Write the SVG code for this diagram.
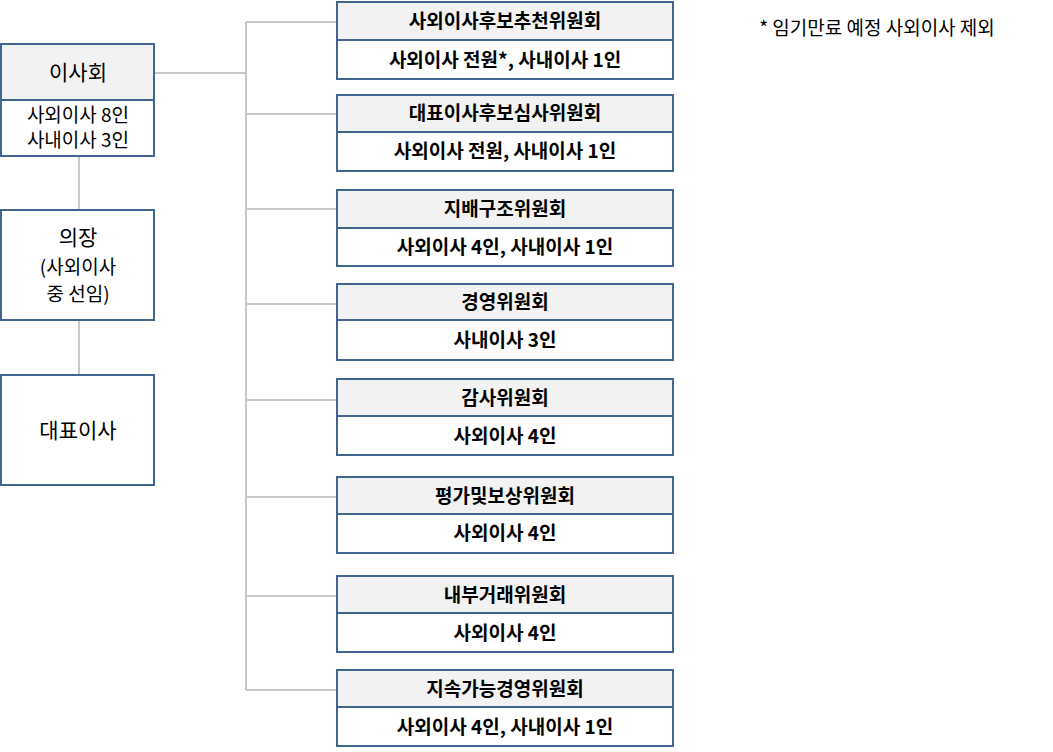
<svg xmlns="http://www.w3.org/2000/svg" width="1053" height="752" viewBox="0 0 1053 752">
<style>
.b{fill:#fff;stroke:#41668e;stroke-width:2}
.h{fill:#f2f2f2;stroke:#41668e;stroke-width:2}
.t{font-family:"Noto Sans CJK KR","Noto Sans",sans-serif;fill:#000;text-anchor:middle}
.n{font-size:21px}
.s{font-size:19px}
.c{font-size:19px;font-weight:bold}
.l{stroke:#c8c8c8;stroke-width:2;fill:none}
</style>
<rect width="1053" height="752" fill="#fff"/>
<g id="connectors">
<path class="l" d="M79 156V210M79 320V375M154 73H246M246 22V690M246 22H337M246 114H337M246 209H337M246 304H337M246 400H337M246 497H337M246 596H337M246 690H337"/>
</g>
<g id="board"><rect class="h" x="1" y="44" width="153" height="56"/><rect class="b" x="1" y="100" width="153" height="56"/>
<text class="t n" x="78" y="80">이사회</text><text class="t s" x="78" y="122">사외이사 8인</text><text class="t s" x="78" y="147">사내이사 3인</text></g>
<g id="chair"><rect class="b" x="1" y="210" width="153" height="110"/>
<text class="t n" x="78" y="245">의장</text><text class="t s" x="78" y="274">(사외이사</text><text class="t s" x="78" y="301">중 선임)</text></g>
<g id="ceo"><rect class="b" x="1" y="375" width="153" height="110"/><text class="t n" x="78" y="438">대표이사</text></g>
<g id="c1"><rect class="h" x="337" y="2" width="336" height="38"/><rect class="b" x="337" y="40" width="336" height="39"/><text class="t c" x="505" y="28">사외이사후보추천위원회</text><text class="t c" x="505" y="67">사외이사 전원*, 사내이사 1인</text></g>
<g id="c2"><rect class="h" x="337" y="95" width="336" height="37"/><rect class="b" x="337" y="132" width="336" height="39"/><text class="t c" x="505" y="120">대표이사후보심사위원회</text><text class="t c" x="505" y="158">사외이사 전원, 사내이사 1인</text></g>
<g id="c3"><rect class="h" x="337" y="190" width="336" height="38"/><rect class="b" x="337" y="228" width="336" height="38"/><text class="t c" x="505" y="216">지배구조위원회</text><text class="t c" x="505" y="254">사외이사 4인, 사내이사 1인</text></g>
<g id="c4"><rect class="h" x="337" y="284" width="336" height="36"/><rect class="b" x="337" y="320" width="336" height="40"/><text class="t c" x="505" y="309">경영위원회</text><text class="t c" x="505" y="347">사내이사 3인</text></g>
<g id="c5"><rect class="h" x="337" y="379" width="336" height="37"/><rect class="b" x="337" y="416" width="336" height="39"/><text class="t c" x="505" y="405">감사위원회</text><text class="t c" x="505" y="443">사외이사 4인</text></g>
<g id="c6"><rect class="h" x="337" y="477" width="336" height="37"/><rect class="b" x="337" y="514" width="336" height="39"/><text class="t c" x="505" y="503">평가및보상위원회</text><text class="t c" x="505" y="540">사외이사 4인</text></g>
<g id="c7"><rect class="h" x="337" y="576" width="336" height="37"/><rect class="b" x="337" y="613" width="336" height="39"/><text class="t c" x="505" y="602">내부거래위원회</text><text class="t c" x="505" y="640">사외이사 4인</text></g>
<g id="c8"><rect class="h" x="337" y="670" width="336" height="37"/><rect class="b" x="337" y="707" width="336" height="39"/><text class="t c" x="505" y="696">지속가능경영위원회</text><text class="t c" x="505" y="734">사외이사 4인, 사내이사 1인</text></g>
<text class="t" x="877" y="35" font-size="19">* 임기만료 예정 사외이사 제외</text>
</svg>
